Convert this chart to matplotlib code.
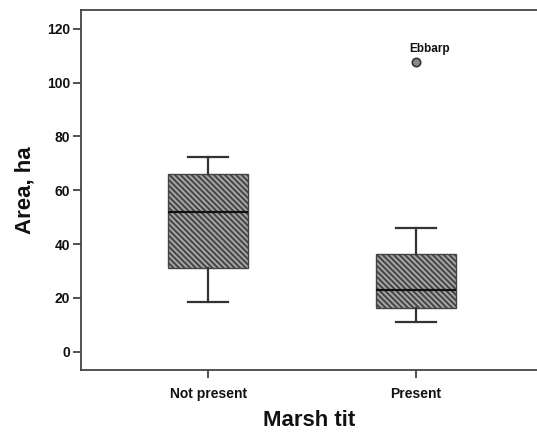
import matplotlib
matplotlib.use("Agg")
import matplotlib.pyplot as plt

plt.rcParams["font.family"] = ["Liberation Sans", "DejaVu Sans"]
plt.rcParams["hatch.linewidth"] = 1.4
plt.rcParams["hatch.color"] = "#3a3a3a"

# Box summaries of area (ha) by Marsh tit presence
categories = ["Not present", "Present"]
q1 = [31.1, 16.4]
medians = [52.0, 22.9]
q3 = [66.1, 36.3]
whisker_low = [18.5, 10.9]
whisker_high = [72.5, 46.0]
outliers = [[], [107.8]]
outlier_names = [[], ["Ebbarp"]]
y_ticks = [0, 20, 40, 60, 80, 100, 120]

fig = plt.figure(figsize=(5.37, 4.32), dpi=100)
ax = fig.add_axes([81 / 537, 62 / 432, 456 / 537, 360 / 432])

stats = []
for i, name in enumerate(categories):
    stats.append(dict(label=name, q1=q1[i], med=medians[i], q3=q3[i],
                      whislo=whisker_low[i], whishi=whisker_high[i],
                      fliers=[]))

positions = [1, 2]
bp = ax.bxp(stats, positions=positions, widths=0.386, capwidths=0.193,
            patch_artist=True, showfliers=False,
            boxprops=dict(facecolor="#a6a6a6", edgecolor="#444444",
                          linewidth=1.0, hatch="\\\\\\\\\\\\"),
            medianprops=dict(color="#111111", linewidth=1.6),
            whiskerprops=dict(color="#333333", linewidth=1.6),
            capprops=dict(color="#333333", linewidth=1.6))

for pos, vals, names in zip(positions, outliers, outlier_names):
    for v, nm in zip(vals, names):
        ax.plot([pos], [v], marker="o", markersize=6,
                markerfacecolor="#8a8a8a", markeredgecolor="#333333",
                markeredgewidth=1.2, linestyle="none", zorder=3)
        ax.annotate(nm, (pos, v), xytext=(-5, 5), textcoords="offset points",
                    ha="left", va="bottom", fontsize=8.5, fontweight="bold",
                    color="#111111")

ax.set_xlim(0.388, 2.584)
ax.set_ylim(-6.8, 127)
ax.set_xticks(positions)
ax.set_xticklabels(categories)
ax.set_yticks(y_ticks)

for side in ["left", "bottom", "top"]:
    ax.spines[side].set_color("#444444")
    ax.spines[side].set_linewidth(1.3)
ax.spines["right"].set_visible(False)

ax.tick_params(axis="both", which="major", length=6, width=1.3,
               color="#444444", labelsize=10, pad=2)
ax.tick_params(axis="x", pad=6)
for lbl in ax.get_xticklabels() + ax.get_yticklabels():
    lbl.set_fontweight("bold")
    lbl.set_color("#111111")

ax.set_ylabel("Area, ha", fontsize=16, fontweight="bold", color="#111111")
ax.set_xlabel("Marsh tit", fontsize=16, fontweight="bold", color="#111111")
ax.yaxis.set_label_coords(-0.100, 0.5)
ax.xaxis.set_label_coords(0.5, -0.11)

fig.savefig("out.png", dpi=100)
